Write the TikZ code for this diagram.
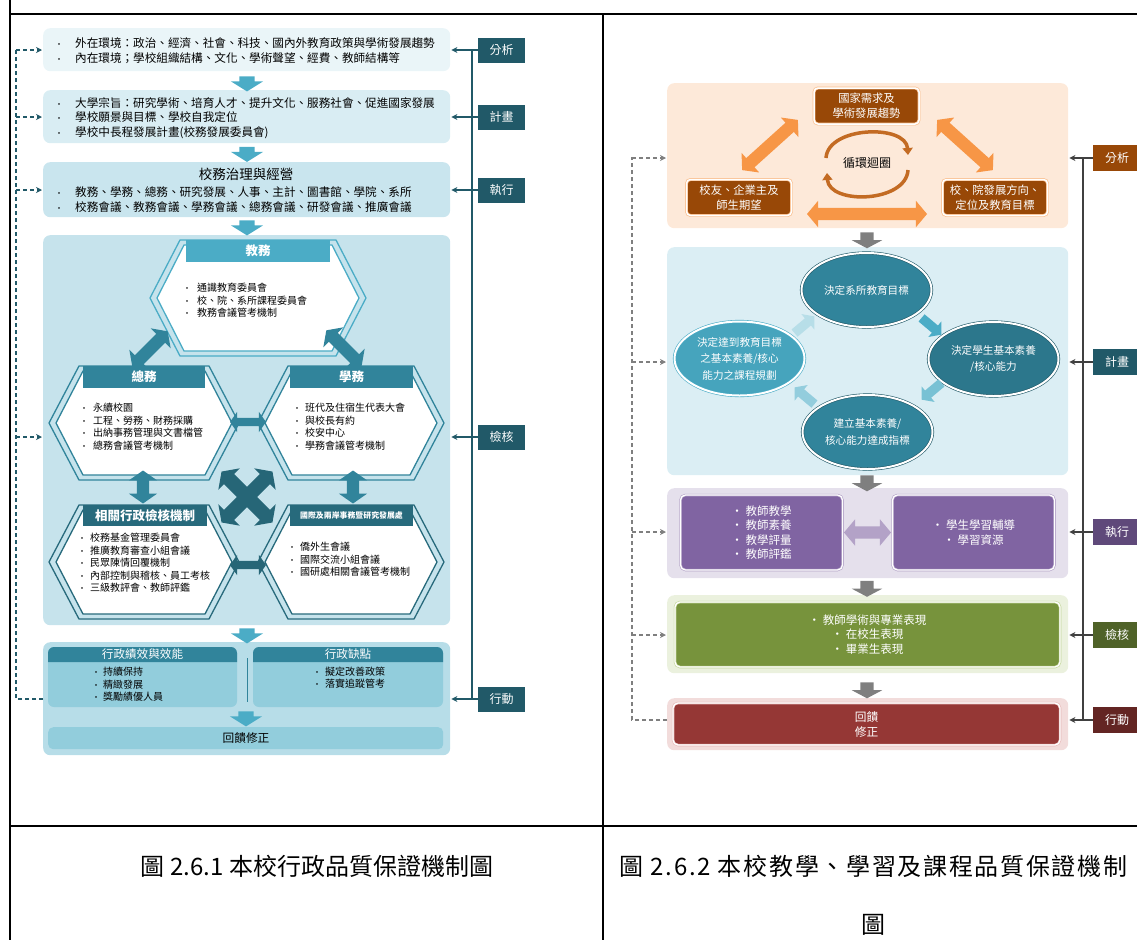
\documentclass[tikz,border=0pt]{standalone}
\usepackage{fontspec}
\setmainfont{Noto Sans CJK TC}
\usetikzlibrary{arrows.meta,positioning,calc,shapes.arrows,shapes.geometric}

\definecolor{tealA}{HTML}{4BACC6}
\definecolor{tealB}{HTML}{31849B}
\definecolor{tealC}{HTML}{215968}
\definecolor{paleA}{HTML}{EAF5F8}
\definecolor{paleB}{HTML}{D9EDF3}
\definecolor{paleC}{HTML}{C9E5EE}
\definecolor{paleD}{HTML}{C6E3EC}
\definecolor{paleE}{HTML}{B7DDE8}
\definecolor{paleF}{HTML}{92CDDC}
\definecolor{peach}{HTML}{FDE9D9}
\definecolor{brownA}{HTML}{984807}
\definecolor{orangeA}{HTML}{F79646}
\definecolor{orangeB}{HTML}{FAC090}
\definecolor{grayA}{HTML}{7F7F7F}
\definecolor{skyA}{HTML}{DBEEF4}
\definecolor{lilac}{HTML}{E5E0EC}
\definecolor{purpA}{HTML}{8064A2}
\definecolor{purpB}{HTML}{B3A2C7}
\definecolor{purpC}{HTML}{5F497A}
\definecolor{lime}{HTML}{EBF1DE}
\definecolor{oliveA}{HTML}{77933C}
\definecolor{oliveB}{HTML}{4F6228}
\definecolor{oliveC}{HTML}{C3D69B}
\definecolor{pinkA}{HTML}{F2DCDB}
\definecolor{pinkB}{HTML}{E6B9B8}
\definecolor{redA}{HTML}{953735}
\definecolor{redB}{HTML}{632523}

\newcommand{\fsz}[2]{\fontsize{#1}{#2}\selectfont}
\newcommand{\bul}[1]{\makebox[#1][l]{\footnotesize •}}
% hexagon with a double rim: centre x, centre y, half width, half height, rim colour
\newcommand{\hexa}[5]{%
  \draw[#5, line width=1.3pt] (#1-#3,#2) -- (#1-#3+30,#2-#4) -- (#1+#3-30,#2-#4)
    -- (#1+#3,#2) -- (#1+#3-30,#2+#4) -- (#1-#3+30,#2+#4) -- cycle;
  \filldraw[fill=white, draw=#5, line width=1.3pt] (#1-#3+7,#2) -- (#1-#3+34,#2-#4+5)
    -- (#1+#3-34,#2-#4+5) -- (#1+#3-7,#2) -- (#1+#3-34,#2+#4-5) -- (#1-#3+34,#2+#4-5) -- cycle;}

\tikzset{
  panel/.style={rounded corners=7pt, anchor=north west, inner sep=0pt},
  listL/.style={anchor=north west, align=left, inner sep=0pt, font=\fsz{11.6}{15}},
  hextext/.style={anchor=north west, align=left, inner sep=0pt, font=\fsz{10}{12.5}},
  hexhead/.style={text=white, inner sep=0pt, font=\bfseries\fsz{12.5}{14}, minimum height=22pt},
  lbL/.style={fill=tealC, text=white, inner sep=0pt, font=\fsz{12}{14}, minimum width=47pt, minimum height=25pt},
  lbR/.style={text=white, inner sep=0pt, font=\fsz{12}{14}, minimum width=48pt, minimum height=26pt},
  dnL/.style={single arrow, fill=tealA, rotate=-90, inner xsep=0pt, inner ysep=7.5pt,
    single arrow head extend=8.5pt, single arrow tip angle=116, minimum height=15pt},
  dnR/.style={single arrow, fill=grayA, rotate=-90, inner xsep=0pt, inner ysep=6.5pt,
    single arrow head extend=8.5pt, single arrow tip angle=124, minimum height=16pt},
  dblT/.style={double arrow, fill=tealB, inner xsep=0pt, inner ysep=6pt,
    double arrow head extend=8pt, double arrow tip angle=110, minimum height=#1},
  dblO/.style={double arrow, fill=orangeA, inner xsep=0pt, inner ysep=6pt,
    double arrow head extend=7pt, double arrow tip angle=100, minimum height=#1},
  dblP/.style={double arrow, fill=purpB, inner xsep=0pt, inner ysep=6pt,
    double arrow head extend=7pt, double arrow tip angle=100, minimum height=#1},
  smA/.style={single arrow, inner xsep=0pt, inner ysep=4.5pt, single arrow head extend=5.5pt,
    single arrow tip angle=100, minimum height=26pt},
  brbox/.style={fill=brownA, draw=orangeB, double=white, double distance=1.5pt, line width=0.7pt,
    rounded corners=4pt, minimum width=105pt, minimum height=36pt, inner sep=0pt,
    text=white, align=center, font=\fsz{11.3}{15}},
  ell/.style={ellipse, draw=tealC, double=white, double distance=2pt, line width=0.6pt,
    minimum width=130pt, minimum height=74pt, inner sep=0pt, text=white, align=center,
    font=\fsz{10.6}{16.5}},
  rbox/.style={double=white, double distance=1.3pt, line width=0.6pt, rounded corners=5pt,
    inner sep=0pt, text=white, align=center, font=\fsz{11.5}{14.3}},
  spL/.style={tealC, line width=1.3pt},
  spR/.style={black!75, line width=1.2pt},
  dashL/.style={tealC, line width=1.3pt, dash pattern=on 4pt off 3pt},
  dashR/.style={grayA, line width=1.2pt, dash pattern=on 4pt off 3pt},
  capt/.style={inner sep=0pt, font=\fsz{24}{28}}
}

\begin{document}
\begin{tikzpicture}[x=1pt, y=-1pt]
  \useasboundingbox (0,0) rectangle (1137,940);

  % table rules
  \draw[line width=1.5pt] (10,14) -- (1137,14);
  \draw[line width=1.5pt] (10,0) -- (10,940);
  \draw[line width=1.5pt] (603,14) -- (603,940);
  \draw[line width=1.5pt] (10,826) -- (1137,826);

  % ---------- left: administration ----------
  \node[panel, fill=paleA, minimum width=407pt, minimum height=43pt] (bxA) at (43,28) {};
  \node[listL] (txA) at (55,37) {\bul{20pt}外在環境：政治、經濟、社會、科技、國內外教育政策與學術發展趨勢\\
    \bul{20pt}內在環境；學校組織結構、文化、學術聲望、經費、教師結構等};
  \node[panel, fill=paleB, minimum width=407pt, minimum height=53pt] (bxB) at (43,90) {};
  \node[listL, font=\fsz{11.6}{14.5}] (txB) at (55,97) {\bul{20pt}大學宗旨：研究學術、培育人才、提升文化、服務社會、促進國家發展\\
    \bul{20pt}學校願景與目標、學校自我定位\\
    \bul{20pt}學校中長程發展計畫(校務發展委員會)};
  \node[panel, fill=paleC, minimum width=407pt, minimum height=55pt] (bxC) at (43,162) {};
  \node[inner sep=0pt, font=\fsz{13.5}{15}] (tiC) at (246,174) {校務治理與經營};
  \node[listL] (txC) at (55,186) {\bul{20pt}教務、學務、總務、研究發展、人事、主計、圖書館、學院、系所\\
    \bul{20pt}校務會議、教務會議、學務會議、總務會議、研發會議、推廣會議};
  \node[panel, fill=paleD, minimum width=407pt, minimum height=390pt] (bxD) at (43,235) {};
  \node[panel, fill=paleE, minimum width=407pt, minimum height=113pt] (bxE) at (43,642) {};

  \node[dnL] (daA) at (247,81.5) {};
  \node[dnL] (daB) at (247,152) {};
  \node[dnL] (daC) at (247,225.5) {};
  \node[dnL] (daD) at (247,633.5) {};
  \node[dnL] (daE) at (246,716.5) {};

  % hexagons
  \hexa{258}{298}{108}{58}{tealA}
  \hexa{144}{423}{95}{57}{tealB}
  \hexa{351}{423}{93}{57}{tealB}
  \hexa{144}{562}{95}{57}{tealC!60!tealB}
  \hexa{351}{562}{93}{57}{tealC!60!tealB}

  \node[hexhead, fill=tealA, minimum width=144pt] (hdA) at (258,251) {教務};
  \node[hexhead, fill=tealB, minimum width=122pt] (hdB) at (144,377) {總務};
  \node[hexhead, fill=tealB, minimum width=123pt] (hdC) at (351.5,377) {學務};
  \node[hexhead, fill=tealC!60!tealB, minimum width=124pt, minimum height=21pt] (hdD) at (145,515.5) {相關行政檢核機制};
  \node[hexhead, fill=tealC!60!tealB, minimum width=123pt, minimum height=21pt,
    font=\bfseries\fsz{7.9}{9}] (hdE) at (351.5,515.5) {國際及兩岸事務暨研究發展處};

  \node[hextext] (txHa) at (183,283) {\bul{14pt}通識教育委員會\\ \bul{14pt}校、院、系所課程委員會\\ \bul{14pt}教務會議管考機制};
  \node[hextext] (txHb) at (80,403) {\bul{13pt}永續校園\\ \bul{13pt}工程、勞務、財務採購\\
    \bul{13pt}出納事務管理與文書檔管\\ \bul{13pt}總務會議管考機制};
  \node[hextext] (txHc) at (293,403) {\bul{12pt}班代及住宿生代表大會\\ \bul{12pt}與校長有約\\
    \bul{12pt}校安中心\\ \bul{12pt}學務會議管考機制};
  \node[hextext] (txHd) at (78,533) {\bul{12pt}校務基金管理委員會\\ \bul{12pt}推廣教育審查小組會議\\
    \bul{12pt}民眾陳情回覆機制\\ \bul{12pt}內部控制與稽核、員工考核\\ \bul{12pt}三級教評會、教師評鑑};
  \node[hextext] (txHe) at (288,542) {\bul{12pt}僑外生會議\\ \bul{12pt}國際交流小組會議\\
    \bul{12pt}國研處相關會議管考機制};

  % arrows between the hexagons
  \node[dblT=50pt, rotate=45] (haA) at (150,349) {};
  \node[dblT=50pt, rotate=-45] (haB) at (344,348) {};
  \node[dblT=36pt, inner ysep=4pt, double arrow head extend=6pt] (haC) at (248,422) {};
  \node[dblT=33pt, rotate=90] (haD) at (143,487) {};
  \node[dblT=33pt, rotate=90] (haE) at (353,487) {};
  \node[dblT=72pt, fill=tealC!70!tealB, inner ysep=7pt, rotate=45] (haF) at (247,497) {};
  \node[dblT=72pt, fill=tealC!70!tealB, inner ysep=7pt, rotate=-45] (haG) at (247,497) {};
  \node[dblT=36pt, fill=tealC!70!tealB, inner ysep=4pt, double arrow head extend=6pt] (haH) at (248,565) {};

  % results panels
  \fill[paleF, rounded corners=6pt] (48,647) rectangle (237,707);
  \fill[paleF, rounded corners=6pt] (253,647) rectangle (443,707);
  \fill[tealB] (48,662) [rounded corners=6pt] -- (48,647) -- (237,647) [sharp corners] -- (237,662) -- cycle;
  \fill[tealB] (253,662) [rounded corners=6pt] -- (253,647) -- (443,647) [sharp corners] -- (443,662) -- cycle;
  \draw[tealB, line width=1pt] (247,658) -- (247,702);
  \node[inner sep=0pt, text=white, font=\fsz{11.6}{13}] (hdP) at (142.5,654.5) {行政績效與效能};
  \node[inner sep=0pt, text=white, font=\fsz{11.6}{13}] (hdQ) at (348,654.5) {行政缺點};
  \node[hextext, font=\fsz{10}{12.5}] (txP) at (92,667) {\bul{11pt}持續保持\\ \bul{11pt}精緻發展\\ \bul{11pt}獎勵績優人員};
  \node[hextext, font=\fsz{10}{12}] (txQ) at (313,667) {\bul{12pt}擬定改善政策\\ \bul{12pt}落實追蹤管考};
  \node[panel, fill=paleF, rounded corners=5pt, minimum width=395pt, minimum height=22pt] (bxF) at (48,727) {};
  \node[inner sep=0pt, font=\fsz{11.7}{13}] (txF) at (246,738) {回饋修正};

  % stage labels and links
  \node[lbL] (lbA) at (501.5,50) {分析};
  \node[lbL] (lbB) at (501.5,117) {計畫};
  \node[lbL] (lbC) at (501.5,190) {執行};
  \node[lbL] (lbD) at (501.5,437) {檢核};
  \node[lbL] (lbE) at (501.5,699) {行動};
  \draw[spL] (472,50) -- (472,699);
  \foreach \l/\b in {lbA/bxA, lbB/bxB, lbC/bxC, lbD/bxD, lbE/bxE}
    \draw[spL, -{Stealth[length=6pt,width=6pt]}, shorten >=1pt] (\l.west) -- (\b.east |- \l);

  \coordinate (fbL) at (16,48);
  \draw[dashL] (bxE.west |- lbE) -| (fbL);
  \foreach \l/\b in {lbA/bxA, lbB/bxB, lbC/bxC, lbD/bxD}
    \draw[dashL, -{Stealth[length=6pt,width=6pt]}, shorten >=1pt] (fbL |- \l) -- (\b.west |- \l);

  % ---------- right: teaching, learning and curriculum ----------
  \node[panel, fill=peach, minimum width=401pt, minimum height=145pt] (scA) at (667,83) {};
  \node[panel, fill=skyA, minimum width=401pt, minimum height=228pt] (scB) at (667,247) {};
  \node[panel, fill=lilac, minimum width=401pt, minimum height=90pt] (scC) at (667,488) {};
  \node[panel, fill=lime, minimum width=401pt, minimum height=78pt] (scD) at (667,595) {};
  \node[panel, fill=pinkA, minimum width=401pt, minimum height=52pt] (scE) at (667,698) {};

  \node[dnR] (gaA) at (867,238.5) {};
  \node[dnR] (gaB) at (867,481.5) {};
  \node[dnR] (gaC) at (867,587) {};
  \node[dnR] (gaD) at (867,688.5) {};

  % needs triangle
  \node[brbox] (bxN) at (866.5,106) {國家需求及\\學術發展趨勢};
  \node[brbox] (bxL) at (739,197.5) {校友、企業主及\\師生期望};
  \node[brbox] (bxR) at (995,197.5) {校、院發展方向、\\定位及教育目標};
  \node[dblO=120pt] (oaH) at (867,214) {};
  \node[dblO=75pt, rotate=42] (oaL) at (770,145) {};
  \node[dblO=75pt, rotate=-42] (oaR) at (965,145) {};
  \node[inner sep=0pt, font=\fsz{12}{14}] (cyc) at (867,163) {循環迴圈};
  \draw[brownA!55!orangeA, line width=3.5pt, -{Triangle[length=7pt,width=10pt]}]
    ($(cyc)+(-41,-5)$) .. controls ($(cyc)+(-39,-37)$) and ($(cyc)+(39,-39)$) .. ($(cyc)+(41,-8)$);
  \draw[brownA!55!orangeA, line width=3.5pt, -{Triangle[length=7pt,width=10pt]}]
    ($(cyc)+(41,7)$) .. controls ($(cyc)+(39,40)$) and ($(cyc)+(-38,42)$) .. ($(cyc)+(-40,10)$);

  % curriculum cycle
  \node[ell, fill=tealB] (elT) at (866.5,290) {決定系所教育目標};
  \node[ell, fill=tealB!70!tealC] (elR) at (993.5,359) {決定學生基本素養\\/核心能力};
  \node[ell, fill=tealB] (elB) at (867.5,432) {建立基本素養/\\核心能力達成指標};
  \node[ell, fill=tealA!80!tealB, draw=tealA] (elL) at (739.5,358.5) {決定達到教育目標\\之基本素養/核心\\能力之課程規劃};
  \node[smA, fill=tealA, rotate=-40] (caA) at (930,325) {};
  \node[smA, fill=tealA!75, rotate=-140] (caB) at (933,390) {};
  \node[smA, fill=tealA!60, rotate=140] (caC) at (806,397) {};
  \node[smA, fill=tealA!40, rotate=40] (caD) at (803,326) {};

  % teaching and learning
  \node[rbox, fill=purpA, draw=purpB, minimum width=162pt, minimum height=75pt] (bxT) at (761.5,532.5)
    {‧ 教師教學\\‧ 教師素養\\‧ 教學評量\\‧ 教師評鑑};
  \node[rbox, fill=purpA, draw=purpB, minimum width=162pt, minimum height=75pt] (bxS) at (973.5,532.5)
    {‧ 學生學習輔導\\‧ 學習資源};
  \node[dblP=47pt] (paH) at (867.5,532.5) {};

  % outcomes and feedback
  \node[rbox, fill=oliveA, draw=oliveC, minimum width=385pt, minimum height=65pt] (bxG) at (867.5,634.5)
    {‧ 教師學術與專業表現\\‧ 在校生表現\\‧ 畢業生表現};
  \node[rbox, fill=redA, draw=pinkB, minimum width=387pt, minimum height=42pt, font=\fsz{11.7}{15}] (bxH) at (866.5,724)
    {回饋\\修正};

  % stage labels and links
  \node[lbR, fill=brownA] (rlA) at (1117,158) {分析};
  \node[lbR, fill=tealC] (rlB) at (1117,362) {計畫};
  \node[lbR, fill=purpC] (rlC) at (1117,532) {執行};
  \node[lbR, fill=oliveB] (rlD) at (1117,635) {檢核};
  \node[lbR, fill=redB] (rlE) at (1117,720) {行動};
  \draw[spR] (1083,158) -- (1083,720);
  \foreach \l/\b in {rlA/scA, rlB/scB, rlC/scC, rlD/scD, rlE/scE}
    \draw[spR, -{Stealth[length=6pt,width=6pt]}, shorten >=1pt] (\l.west) -- (\b.east |- \l);

  \coordinate (fbR) at (632,157);
  \draw[dashR] (scE.west |- rlE) -| (fbR);
  \foreach \l/\b in {rlA/scA, rlB/scB, rlC/scC, rlD/scD}
    \draw[dashR, -{Stealth[length=6pt,width=6pt]}, shorten >=1pt] (fbR |- \l) -- (\b.west |- \l);

  % captions
  \node[capt] (cpL) at (317,866) {圖 2.6.1 本校行政品質保證機制圖};
  \node[capt, font=\fsz{24}{28}\addfontfeature{LetterSpace=7}] (cpR) at (873.5,866) {圖 2.6.2 本校教學、學習及課程品質保證機制};
  \node[capt] (cpS) at (873,925) {圖};
\end{tikzpicture}
\end{document}
